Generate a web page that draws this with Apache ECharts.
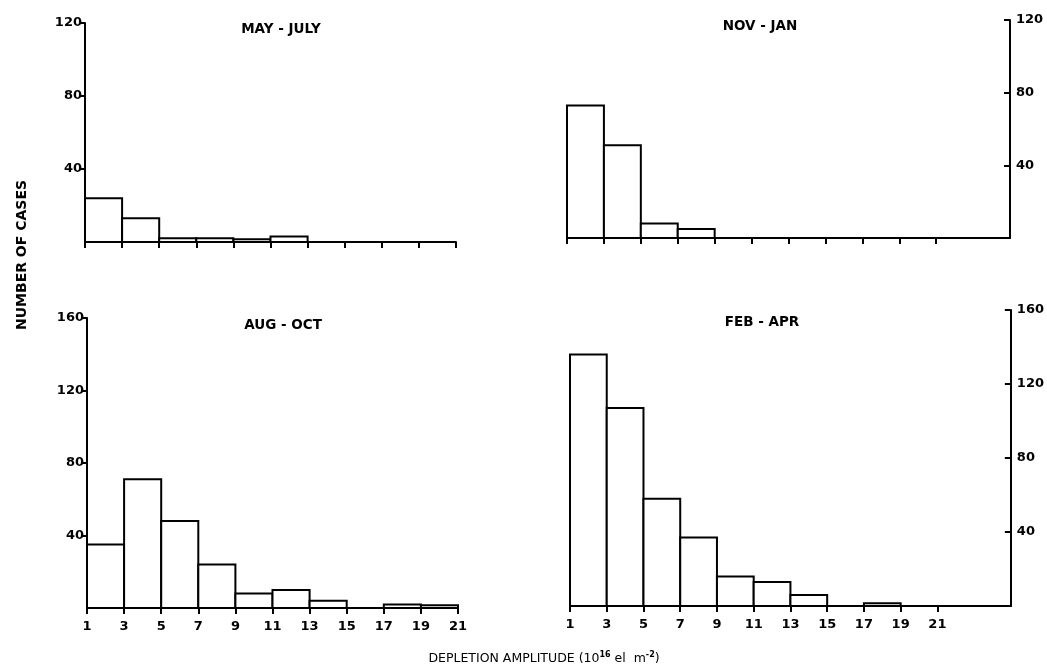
<!DOCTYPE html>
<html>
<head>
<meta charset="utf-8">
<script src="https://cdn.jsdelivr.net/npm/echarts@6/dist/echarts.min.js"></script>
<style>html,body{margin:0;padding:0;background:#fff}#c{width:1047px;height:667px}</style>
</head>
<body>
<div id="c"></div>
<script>
// Bin start values (bin width 2), amplitude in 10^16 el m^-2
const binStarts = [1, 3, 5, 7, 9, 11, 13, 15, 17, 19];
const xTicks = [1, 3, 5, 7, 9, 11, 13, 15, 17, 19, 21];
const panelTitles = ['MAY - JULY', 'NOV - JAN', 'AUG - OCT', 'FEB - APR'];
const mayJuly = [24, 13, 2, 2, 1.5, 3, 0, 0, 0, 0];
const novJan  = [73, 51, 8, 5, 0, 0, 0, 0, 0, 0];
const augOct  = [35, 71, 48, 24, 8, 10, 4, 0, 2, 1.5];
const febApr  = [136, 107, 58, 37, 16, 13, 6, 0, 1.5, 0];
const topYMax = 120, bottomYMax = 160, yStep = 40;

const FONT = 'DejaVu Sans';
const toData = vals => binStarts.map((s, i) => [s, s + 2, vals[i]]);

function renderItem(params, api) {
  const p0 = api.coord([api.value(0), api.value(2)]);
  const p1 = api.coord([api.value(1), 0]);
  return {
    type: 'rect',
    shape: { x: p0[0], y: p0[1], width: p1[0] - p0[0], height: p1[1] - p0[1] },
    style: { fill: '#fff', stroke: '#000', lineWidth: 2 }
  };
}

const grids = [
  { left: 85, top: 23, width: 371, height: 219 },
  { left: 567, top: 20, width: 443, height: 218 },
  { left: 87, top: 318, width: 371, height: 290 },
  { left: 570, top: 310, width: 442, height: 296 }
];

const lineStyle = { color: '#000', width: 2 };
const xAxes = grids.map((g, i) => ({
  type: 'value', gridIndex: i, min: 1, max: (i % 2 === 0) ? 21 : 25,
  axisLine: { show: true, onZero: false, lineStyle },
  axisTick: { show: true, length: 6, lineStyle: { color: '#000', width: 2 }, customValues: xTicks },
  axisLabel: {
    show: i >= 2, customValues: xTicks, color: '#000', fontFamily: FONT, fontWeight: 'bold', fontSize: 13, margin: 12
  },
  splitLine: { show: false }
}));

const yAxes = grids.map((g, i) => {
  const right = i % 2 === 1;
  const max = i < 2 ? topYMax : bottomYMax;
  return {
    type: 'value', gridIndex: i, min: 0, max: max, interval: yStep,
    position: right ? 'right' : 'left',
    axisLine: { show: true, lineStyle },
    axisTick: { show: true, inside: right, length: 6, lineStyle: { color: '#000', width: 2 } },
    axisLabel: {
      showMinLabel: false, color: '#000', fontFamily: FONT, fontWeight: 'bold', fontSize: 13, margin: right ? 6 : 3
    },
    splitLine: { show: false }
  };
});

const titlePos = [[276, 17], [755, 14], [278, 313], [757, 310]];
const titles = panelTitles.map((t, i) => ({
  text: t, left: titlePos[i][0], top: titlePos[i][1], textAlign: 'center',
  textStyle: { fontFamily: FONT, fontWeight: 'bold', fontSize: 13.5, color: '#000' }
}));
titles.push({
  text: 'DEPLETION AMPLITUDE (10{sup|16} el  m{sup|-2})', left: 539, top: 646, textAlign: 'center',
  textStyle: {
    fontFamily: FONT, fontWeight: 'normal', fontSize: 12.5, color: '#000',
    rich: { sup: { fontFamily: FONT, fontSize: 8, fontWeight: 'bold', verticalAlign: 'top', padding: [0, 0, 8, 0] } }
  }
});

const option = {
  backgroundColor: '#fff',
  animation: false,
  title: titles,
  grid: grids,
  xAxis: xAxes,
  yAxis: yAxes,
  graphic: [{
    type: 'text', x: 22, y: 255, rotation: Math.PI / 2,
    style: { text: 'NUMBER OF CASES', fill: '#000', font: 'bold 14px "DejaVu Sans"', align: 'center', verticalAlign: 'middle' }
  }],
  series: [mayJuly, novJan, augOct, febApr].map((vals, i) => ({
    type: 'custom', xAxisIndex: i, yAxisIndex: i, renderItem, data: toData(vals), clip: false
  }))
};

echarts.init(document.getElementById('c')).setOption(option);
</script>
</body>
</html>
